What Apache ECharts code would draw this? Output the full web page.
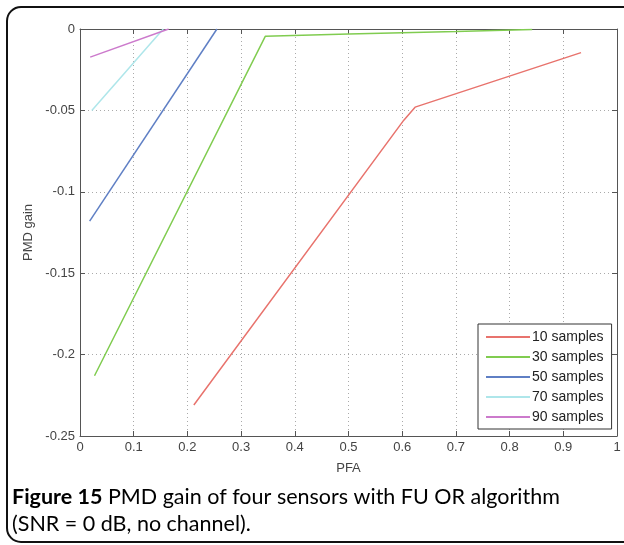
<!DOCTYPE html>
<html>
<head>
<meta charset="utf-8">
<script src="https://cdn.jsdelivr.net/npm/echarts@6/dist/echarts.min.js"></script>
<style>
  html, body { margin: 0; padding: 0; background: #fff; }
  #chart { width: 624px; height: 545px; }
</style>
</head>
<body>
<div id="chart"></div>
<script>
// series data, [PFA, PMD gain]
var samples10 = [[0.212, -0.231], [0.603, -0.056], [0.624, -0.048], [0.933, -0.0145]];
var samples30 = [[0.027, -0.213], [0.345, -0.0045], [0.5, -0.003], [0.7, -0.0015], [0.842, -0.0003]];
var samples50 = [[0.018, -0.118], [0.255, 0]];
var samples70 = [[0.022, -0.05], [0.155, 0]];
var samples90 = [[0.019, -0.0173], [0.165, 0]];

var seriesNames = ['10 samples', '30 samples', '50 samples', '70 samples', '90 samples'];
var seriesData = [samples10, samples30, samples50, samples70, samples90];
var seriesColors = ['#e8736d', '#80cc50', '#5f7fc4', '#aee6ea', '#cc7acc'];

var captionBold = 'Figure 15';
var captionRest = ' PMD gain of four sensors with FU OR algorithm';
var captionLine2 = '(SNR = 0 dB, no channel).';

var dom = document.getElementById('chart');
var myChart = echarts.init(dom, null, { renderer: 'canvas' });

var axisColor = '#555';
var gridLine = { show: true, lineStyle: { color: '#aaa', type: [1, 3], width: 1 } };

var option = {
    animation: false,
    backgroundColor: '#fff',
    color: seriesColors,
    grid: { left: 80, right: 7, top: 29, bottom: 109 },
    legend: {
        data: seriesNames,
        orient: 'vertical',
        left: 478,
        top: 324,
        icon: 'rect',
        itemWidth: 44,
        itemHeight: 2,
        itemGap: 6,
        padding: [6, 8, 5, 8],
        borderColor: '#333',
        borderWidth: 1,
        backgroundColor: '#fff',
        textStyle: { fontFamily: 'Liberation Sans', fontSize: 14, color: '#222', padding: [0, 0, 0, -3] }
    },
    xAxis: [
        {
            type: 'value', min: 0, max: 1, interval: 0.1,
            name: 'PFA', nameLocation: 'middle', nameGap: 26,
            nameTextStyle: { fontFamily: 'Liberation Sans', fontSize: 13, color: '#444' },
            axisLine: { show: true, onZero: false, lineStyle: { color: axisColor } },
            axisTick: { show: true, inside: true, length: 5, lineStyle: { color: axisColor } },
            axisLabel: { fontFamily: 'Liberation Sans', fontSize: 13, color: '#444', margin: 5 },
            splitLine: gridLine
        },
        {
            type: 'value', min: 0, max: 1, interval: 0.1, position: 'top',
            axisLine: { show: true, onZero: false, lineStyle: { color: axisColor } },
            axisTick: { show: true, inside: true, length: 5, lineStyle: { color: axisColor } },
            axisLabel: { show: false },
            splitLine: { show: false }
        }
    ],
    yAxis: [
        {
            type: 'value', min: -0.25, max: 0, interval: 0.05,
            name: 'PMD gain', nameLocation: 'middle', nameGap: 44,
            nameTextStyle: { fontFamily: 'Liberation Sans', fontSize: 13, color: '#444' },
            axisLine: { show: true, onZero: false, lineStyle: { color: axisColor } },
            axisTick: { show: true, inside: true, length: 5, lineStyle: { color: axisColor } },
            axisLabel: { fontFamily: 'Liberation Sans', fontSize: 13, color: '#444', margin: 5 },
            splitLine: gridLine
        },
        {
            type: 'value', min: -0.25, max: 0, interval: 0.05, position: 'right',
            axisLine: { show: true, onZero: false, lineStyle: { color: axisColor } },
            axisTick: { show: true, inside: true, length: 5, lineStyle: { color: axisColor } },
            axisLabel: { show: false },
            splitLine: { show: false }
        }
    ],
    series: seriesNames.map(function (name, i) {
        return {
            name: name,
            type: 'line',
            data: seriesData[i],
            showSymbol: false,
            lineStyle: { width: 1.5, color: seriesColors[i] },
            itemStyle: { color: seriesColors[i] }
        };
    }),
    graphic: [
        {
            type: 'rect',
            shape: { x: 7, y: 7, width: 630, height: 535, r: 14 },
            style: { fill: 'none', stroke: '#111', lineWidth: 2 },
            z: -1
        },
        {
            type: 'text',
            left: 12,
            top: 486,
            style: {
                text: '{b|' + captionBold + '}{n|' + captionRest + '}\n{n|' + captionLine2 + '}',
                rich: {
                    b: { fontFamily: 'Lato', fontWeight: 'bold', fontSize: 21.5, color: '#1a1a1a', lineHeight: 27 },
                    n: { fontFamily: 'Lato', fontSize: 21.5, color: '#1a1a1a', lineHeight: 27 }
                }
            }
        }
    ]
};

myChart.setOption(option);
window.addEventListener('resize', myChart.resize);
</script>
</body>
</html>
